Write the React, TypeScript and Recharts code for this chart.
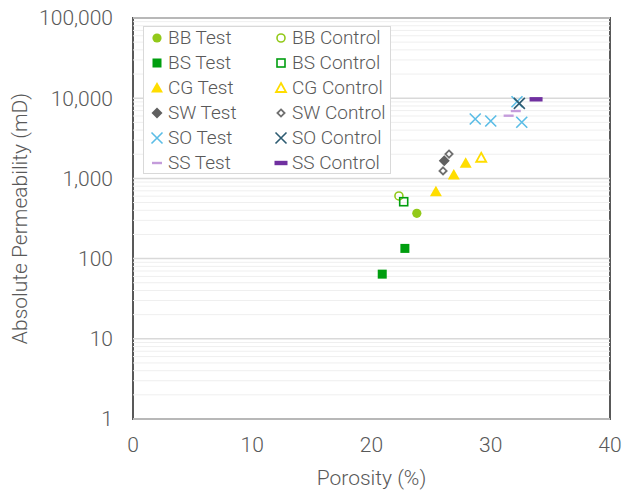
import {
  ScatterChart,
  Scatter,
  XAxis,
  YAxis,
  ReferenceLine,
  ReferenceArea,
  Legend,
} from "recharts";

// porosity (%) and permeability (mD)
const bbTestX = [23.8];
const bbTestY = [367];
const bbControlX = [22.3];
const bbControlY = [604];
const bsTestX = [22.8, 20.9];
const bsTestY = [134, 64];
const bsControlX = [22.7];
const bsControlY = [512];
const cgTestX = [25.4, 26.9, 27.9];
const cgTestY = [682, 1100, 1540];
const cgControlX = [29.2];
const cgControlY = [1810];
const swTestX = [26.1];
const swTestY = [1660];
const swControlX = [26.5, 26.0];
const swControlY = [2010, 1240];
const soTestX = [28.7, 30.0, 32.6, 32.2];
const soTestY = [5500, 5200, 5010, 9040];
const soControlX = [32.4];
const soControlY = [8630];
const ssTestX = [31.5, 32.1];
const ssTestY = [6050, 6920];
const ssControlX = [33.8];
const ssControlY = [9690];

const xTicks = [0, 10, 20, 30, 40];
const yTicks = [1, 10, 100, 1000, 10000, 100000];
const minorSteps = [2, 3, 4, 5, 6, 7, 8, 9];

const TEXT = "#595959";
const FONT = "Roboto, 'Liberation Sans', Arial, sans-serif";
const WEIGHT = 300;

type Kind =
  | "circle"
  | "circleOpen"
  | "square"
  | "squareOpen"
  | "triangle"
  | "triangleOpen"
  | "diamond"
  | "diamondOpen"
  | "cross"
  | "dash"
  | "dashBold";

type SeriesDef = { name: string; xs: number[]; ys: number[]; kind: Kind; color: string };

const series: SeriesDef[] = [
  { name: "BB Test", xs: bbTestX, ys: bbTestY, kind: "circle", color: "#92C91A" },
  { name: "BB Control", xs: bbControlX, ys: bbControlY, kind: "circleOpen", color: "#92C91A" },
  { name: "BS Test", xs: bsTestX, ys: bsTestY, kind: "square", color: "#009E0F" },
  { name: "BS Control", xs: bsControlX, ys: bsControlY, kind: "squareOpen", color: "#009E0F" },
  { name: "CG Test", xs: cgTestX, ys: cgTestY, kind: "triangle", color: "#FFDD00" },
  { name: "CG Control", xs: cgControlX, ys: cgControlY, kind: "triangleOpen", color: "#FFDD00" },
  { name: "SW Test", xs: swTestX, ys: swTestY, kind: "diamond", color: "#606060" },
  { name: "SW Control", xs: swControlX, ys: swControlY, kind: "diamondOpen", color: "#707070" },
  { name: "SO Test", xs: soTestX, ys: soTestY, kind: "cross", color: "#5BBDE6" },
  { name: "SO Control", xs: soControlX, ys: soControlY, kind: "cross", color: "#2E5C72" },
  { name: "SS Test", xs: ssTestX, ys: ssTestY, kind: "dash", color: "#C49CDB" },
  { name: "SS Control", xs: ssControlX, ys: ssControlY, kind: "dashBold", color: "#7030A0" },
];

const Marker = ({ kind, color, cx, cy }: { kind: Kind; color: string; cx: number; cy: number }) => {
  switch (kind) {
    case "circle":
      return <circle cx={cx} cy={cy} r={4.6} fill={color} />;
    case "circleOpen":
      return <circle cx={cx} cy={cy} r={4} fill="none" stroke={color} strokeWidth={1.6} />;
    case "square":
      return <rect x={cx - 4.5} y={cy - 4.5} width={9} height={9} fill={color} />;
    case "squareOpen":
      return <rect x={cx - 4} y={cy - 4} width={8} height={8} fill="none" stroke={color} strokeWidth={1.6} />;
    case "triangle":
      return <polygon points={`${cx},${cy - 6} ${cx + 6},${cy + 4.5} ${cx - 6},${cy + 4.5}`} fill={color} />;
    case "triangleOpen":
      return (
        <polygon
          points={`${cx},${cy - 5} ${cx + 5},${cy + 4} ${cx - 5},${cy + 4}`}
          fill="none"
          stroke={color}
          strokeWidth={1.8}
        />
      );
    case "diamond":
      return <polygon points={`${cx},${cy - 5.5} ${cx + 5.5},${cy} ${cx},${cy + 5.5} ${cx - 5.5},${cy}`} fill={color} />;
    case "diamondOpen":
      return (
        <polygon
          points={`${cx},${cy - 3.6} ${cx + 3.6},${cy} ${cx},${cy + 3.6} ${cx - 3.6},${cy}`}
          fill="none"
          stroke={color}
          strokeWidth={1.8}
        />
      );
    case "cross":
      return (
        <path
          d={`M${cx - 5.5},${cy - 5.5}L${cx + 5.5},${cy + 5.5}M${cx + 5.5},${cy - 5.5}L${cx - 5.5},${cy + 5.5}`}
          stroke={color}
          strokeWidth={1.6}
        />
      );
    case "dash":
      return <rect x={cx - 5} y={cy - 1.2} width={10} height={2.4} fill={color} />;
    case "dashBold":
      return <rect x={cx - 6.5} y={cy - 2.2} width={13} height={4.4} fill={color} />;
  }
  return null;
};

const gridMajor = yTicks;
const gridMinor = yTicks.slice(0, -1).flatMap((d) => minorSteps.map((m) => d * m));

const renderLegend = () => (
  <div
    style={{
      width: 248,
      height: 148,
      boxSizing: "border-box",
      border: "1px solid #d9d9d9",
      background: "#fff",
      fontFamily: FONT,
      fontWeight: WEIGHT,
      fontSize: 19,
      color: TEXT,
    }}
  >
    <div
      style={{
        position: "relative",
        top: -2,
        display: "grid",
        gridTemplateColumns: "124px 124px",
        gridAutoRows: "25px",
      }}
    >
      {series.map((s) => (
        <div key={s.name} style={{ display: "flex", alignItems: "center", height: 25, whiteSpace: "nowrap" }}>
          <svg width={16} height={20} style={{ marginLeft: 5, flex: "none" }}>
            <Marker kind={s.kind} color={s.color} cx={8} cy={10} />
          </svg>
          <span style={{ marginLeft: 3, lineHeight: "25px" }}>{s.name}</span>
        </div>
      ))}
    </div>
  </div>
);

const fmt = (v: number) => v.toLocaleString("en-US");

export default function App() {
  return (
    <div style={{ position: "absolute", left: 0, top: 0, background: "#fff" }}>
      <ScatterChart width={624} height={491} margin={{ top: 18, right: 14, bottom: 0, left: 0 }}>
        {gridMinor.map((v) => (
          <ReferenceLine key={`mn${v}`} y={v} stroke="#efefef" strokeWidth={1} />
        ))}
        {gridMajor.map((v) => (
          <ReferenceLine key={`mj${v}`} y={v} stroke="#d9d9d9" strokeWidth={1.5} />
        ))}
        <XAxis
          type="number"
          dataKey="x"
          domain={[0, 40]}
          ticks={xTicks}
          height={72}
          axisLine={false}
          tickLine={false}
          tickSize={0}
          tickMargin={18}
          tick={{ fill: TEXT, fontSize: 21, fontFamily: FONT, fontWeight: WEIGHT }}
          label={{
            content: ({ viewBox }: any) => (
              <text
                x={viewBox.x + viewBox.width / 2}
                y={478}
                textAnchor="middle"
                dominantBaseline="central"
                fill={TEXT}
                fontSize={21}
                fontFamily={FONT}
                fontWeight={WEIGHT}
              >
                Porosity (%)
              </text>
            ),
          }}
        />
        <YAxis
          type="number"
          dataKey="y"
          scale="log"
          domain={[1, 100000]}
          ticks={yTicks}
          allowDataOverflow
          width={133}
          axisLine={false}
          tickLine={false}
          tickSize={0}
          tickMargin={20}
          tickFormatter={fmt}
          tick={{ fill: TEXT, fontSize: 21, fontFamily: FONT, fontWeight: WEIGHT }}
          label={{
            content: ({ viewBox }: any) => (
              <text
                x={20}
                y={viewBox.y + viewBox.height / 2}
                transform={`rotate(-90 20 ${viewBox.y + viewBox.height / 2})`}
                textAnchor="middle"
                dominantBaseline="central"
                fill={TEXT}
                fontSize={21}
                fontFamily={FONT}
                fontWeight={WEIGHT}
              >
                Absolute Permeability (mD)
              </text>
            ),
          }}
        />
        <ReferenceArea x1={0} x2={40} y1={1} y2={100000} fill="none" stroke="#595959" strokeWidth={2} ifOverflow="visible" />
        {series.map((s) => (
          <Scatter
            key={s.name}
            name={s.name}
            data={s.xs.map((x, i) => ({ x, y: s.ys[i] }))}
            isAnimationActive={false}
            shape={(p: any) => <Marker kind={s.kind} color={s.color} cx={p.cx} cy={p.cy} />}
          />
        ))}
        <Legend
          layout="vertical"
          align="center"
          verticalAlign="middle"
          content={renderLegend}
          wrapperStyle={{ left: 143, top: 26, width: 248, height: 148 }}
        />
      </ScatterChart>
    </div>
  );
}
